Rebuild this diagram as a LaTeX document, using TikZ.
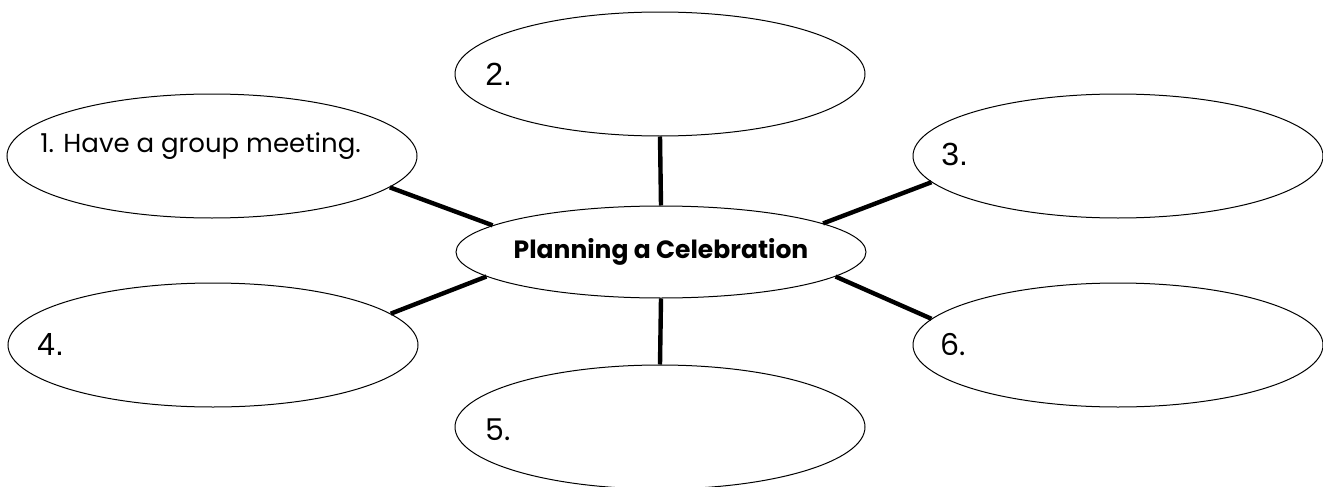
\documentclass[tikz,border=0pt]{standalone}
\usepackage{fontspec}
\setmainfont{Poppins}
\newfontfamily\arialfont{Liberation Sans}
\usetikzlibrary{shapes.geometric}

\begin{document}
\begin{tikzpicture}[x=0.5pt, y=-0.5pt,
  bubble/.style={draw, ellipse, line width=0.5pt, minimum width=205pt, minimum height=62pt, inner sep=0pt},
  spoke/.style={line width=2.2pt},
  entry/.style={anchor=base west, inner sep=0pt, font=\fontsize{13}{15}\selectfont},
  digit/.style={anchor=base west, inner sep=0pt, font=\arialfont\fontsize{16}{18}\selectfont}]

\useasboundingbox (0,0) rectangle (1323,487);

\node[bubble, minimum height=46pt, label={[inner sep=0pt, font=\fontsize{12.5}{15}\selectfont\bfseries]center:Planning a Celebration}] (plan) at (661,252) {};

\node[bubble] (one) at (212,156) {};
\node[bubble] (two) at (660,74) {};
\node[bubble] (three) at (1118,156) {};
\node[bubble] (four) at (213,345) {};
\node[bubble] (five) at (660,427) {};
\node[bubble] (six) at (1118,345) {};

\node[entry] (label1) at (40,152) {1. Have a group meeting.};
\node[digit] (label2) at (485,85) {2.};
\node[digit] (label3) at (941,165) {3.};
\node[digit] (label4) at (37,355) {4.};
\node[entry, font=\fontsize{15}{18}\selectfont] (label5) at (485,440) {5.};
\node[entry, font=\fontsize{15}{18}\selectfont] (label6) at (940,355) {6.};

\draw[spoke] (one.-10) -- (plan.171);
\draw[spoke] (two.south) -- (plan.north);
\draw[spoke] (three.188) -- (plan.10);
\draw[spoke] (four.10) -- (plan.188);
\draw[spoke] (five.north) -- (plan.south);
\draw[spoke] (six.172) -- (plan.-8);

\end{tikzpicture}
\end{document}
